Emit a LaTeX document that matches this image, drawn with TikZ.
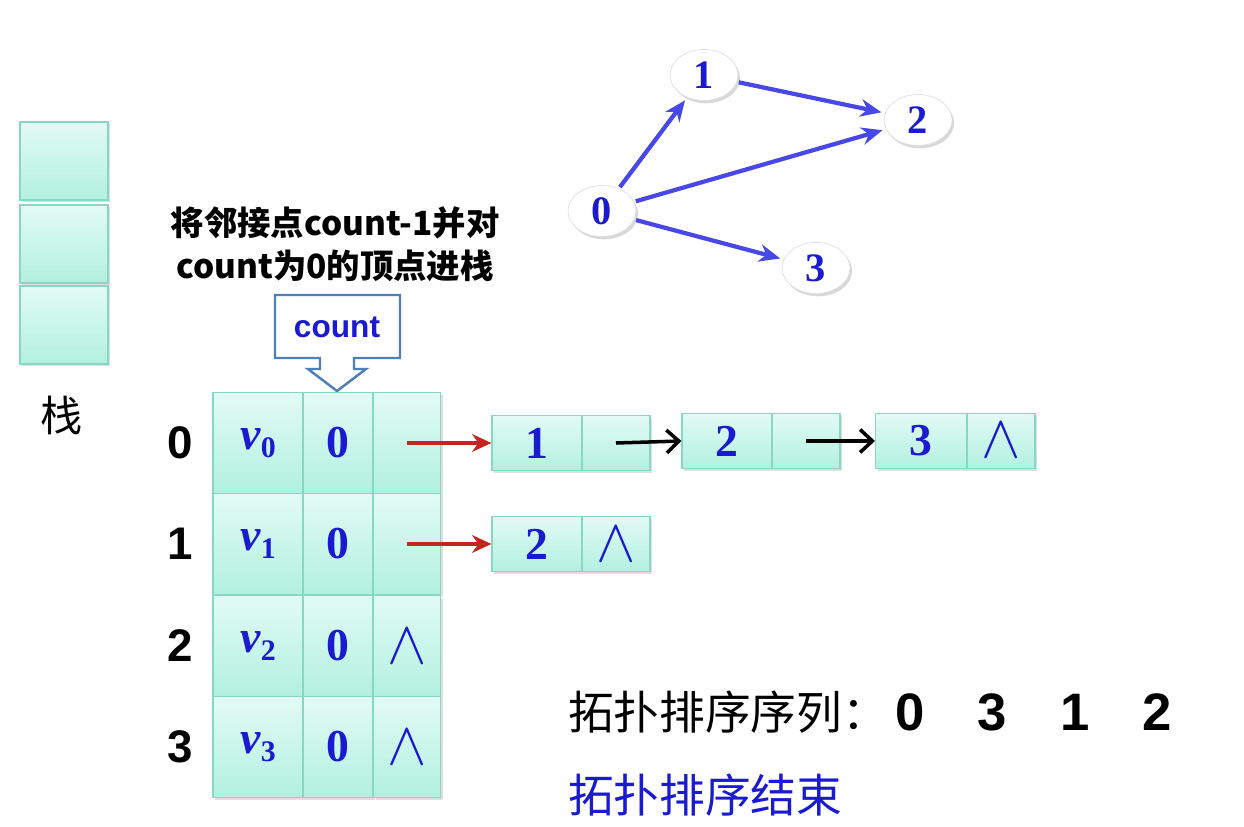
\documentclass[tikz,border=0pt]{standalone}
\usepackage{fontspec}
\setmainfont{Liberation Serif}
\newfontfamily\cjk{Noto Sans CJK SC}
\newfontfamily\arialf{Liberation Sans}
\usepackage{tikz}
\usetikzlibrary{arrows.meta,shapes.geometric,shadows}
\definecolor{celltop}{HTML}{E2FBF5}
\definecolor{cellbot}{HTML}{B2F0E0}
\definecolor{cellline}{HTML}{86D8C4}
\definecolor{txtblue}{HTML}{1A1AD0}
\definecolor{edgeblue}{HTML}{4848E8}
\definecolor{ptrred}{HTML}{C0281E}
\definecolor{calloutline}{HTML}{4F7FB8}
\newcommand\vx[1]{\textbf{\textit{v}}\raisebox{-0.4ex}{\fontsize{17}{17}\selectfont\bfseries #1}}
\newcommand\nilsym{\scalebox{1.35}[1.4]{$\wedge$}}
\tikzset{
  cell/.style={draw=cellline, line width=0.6pt, top color=celltop, bottom color=cellbot,
    inner sep=0pt, text=txtblue, font=\fontsize{26}{26}\selectfont\bfseries,
    drop shadow={shadow xshift=1.2pt, shadow yshift=-1.2pt, opacity=0.25}},
  rowlab/.style={font=\arialf\fontsize{26}{26}\selectfont\bfseries},
  vtx/.style={ellipse, draw=black!12, fill=white, minimum width=1.36cm, minimum height=1.02cm, inner sep=0pt,
    text=txtblue, font=\fontsize{23}{23}\selectfont\bfseries,
    drop shadow={shadow xshift=1.2pt, shadow yshift=-1.6pt, opacity=0.3}},
  gedge/.style={draw=edgeblue, line width=2.4pt, -{Stealth[length=12pt,width=10pt]}, shorten <=1pt, shorten >=2pt},
  redarr/.style={draw=ptrred, line width=2pt, -{Stealth[length=11pt,width=10pt]}},
  blkarr/.style={draw=black, line width=2pt, -{Straight Barb[length=7pt,width=13pt,line width=2pt]}},
  callout/.style={draw=calloutline, line width=1.4pt, fill=white},
  cjktext/.style={font=\cjk\fontsize{26}{26}\selectfont},
}
\begin{document}
\begin{tikzpicture}[x=0.02cm, y=-0.02cm]
\fill[white] (0,0) rectangle (1244,827);
\useasboundingbox (0,0) rectangle (1244,827);

\foreach \k/\y in {1/161,2/244,3/325}
  \node[cell, minimum width=1.76cm, minimum height=1.56cm] (s\k) at (64,\y) {};
\node[cjktext, font=\cjk\fontsize{24}{24}\selectfont] (stk) at (62,415) {栈};

\node[align=center, font=\cjk\fontsize{19}{24.4}\selectfont\bfseries] (hint) at (335,244)
  {将邻接点count-1并对\\count为0的顶点进栈};
\draw[callout] (275,295) -- (400,295) -- (400,358) -- (354,358) -- (354,369) -- (366,369)
  -- (337,391) -- (308,369) -- (320,369) -- (320,358) -- (275,358) -- cycle;
\node[text=txtblue, font=\arialf\fontsize{18}{18}\selectfont\bfseries] (cnt) at (337,327) {count};

\foreach \i/\y in {0/443,1/544,2/646,3/747}{
  \node[rowlab] (r\i) at (180,\y) {\i};
  \node[cell, minimum width=1.8cm, minimum height=2.02cm] (v\i) at (258,\y) {\vx{\i}};
  \node[cell, minimum width=1.4cm, minimum height=2.02cm] (c\i) at (338,\y) {0};
  \node[cell, minimum width=1.34cm, minimum height=2.02cm] (p\i) at (407,\y) {\ifnum\i>1 \nilsym\fi};
}

\node[cell, minimum width=1.8cm, minimum height=1.1cm] (a1) at (537,443) {1};
\node[cell, minimum width=1.36cm, minimum height=1.1cm] (a1n) at (616,443) {};
\node[cell, minimum width=1.8cm, minimum height=1.1cm] (a2) at (727,441) {2};
\node[cell, minimum width=1.36cm, minimum height=1.1cm] (a2n) at (806,441) {};
\node[cell, minimum width=1.82cm, minimum height=1.1cm] (a3) at (921,441) {3};
\node[cell, minimum width=1.36cm, minimum height=1.1cm] (a3n) at (1001,441) {\nilsym};
\node[cell, minimum width=1.8cm, minimum height=1.1cm] (b2) at (537,544) {2};
\node[cell, minimum width=1.36cm, minimum height=1.1cm] (b2n) at (616,544) {\nilsym};

\draw[redarr] (p0.center) -- (a1.west);
\draw[redarr] (p1.center) -- (b2.west);
\draw[blkarr] (a1n.center) -- (a2.west);
\draw[blkarr] (a2n.center) -- (a3.west);

\node[vtx] (g0) at (602,211) {0};
\node[vtx] (g1) at (704,75) {1};
\node[vtx] (g2) at (918,120) {2};
\node[vtx] (g3) at (816,268) {3};
\draw[gedge] (g0) -- (g1);
\draw[gedge] (g0) -- (g2);
\draw[gedge] (g1) -- (g2);
\draw[gedge] (g0) -- (g3);

\node[cjktext, anchor=west] (seq) at (562,712) {拓扑排序序列：};
\foreach \d/\x in {0/910,3/992,1/1075,2/1157}
  \node[font=\arialf\fontsize{30}{30}\selectfont\bfseries] (q\d) at (\x,712) {\d};
\node[cjktext, anchor=west, text=txtblue] (done) at (562,795) {拓扑排序结束};
\end{tikzpicture}
\end{document}
